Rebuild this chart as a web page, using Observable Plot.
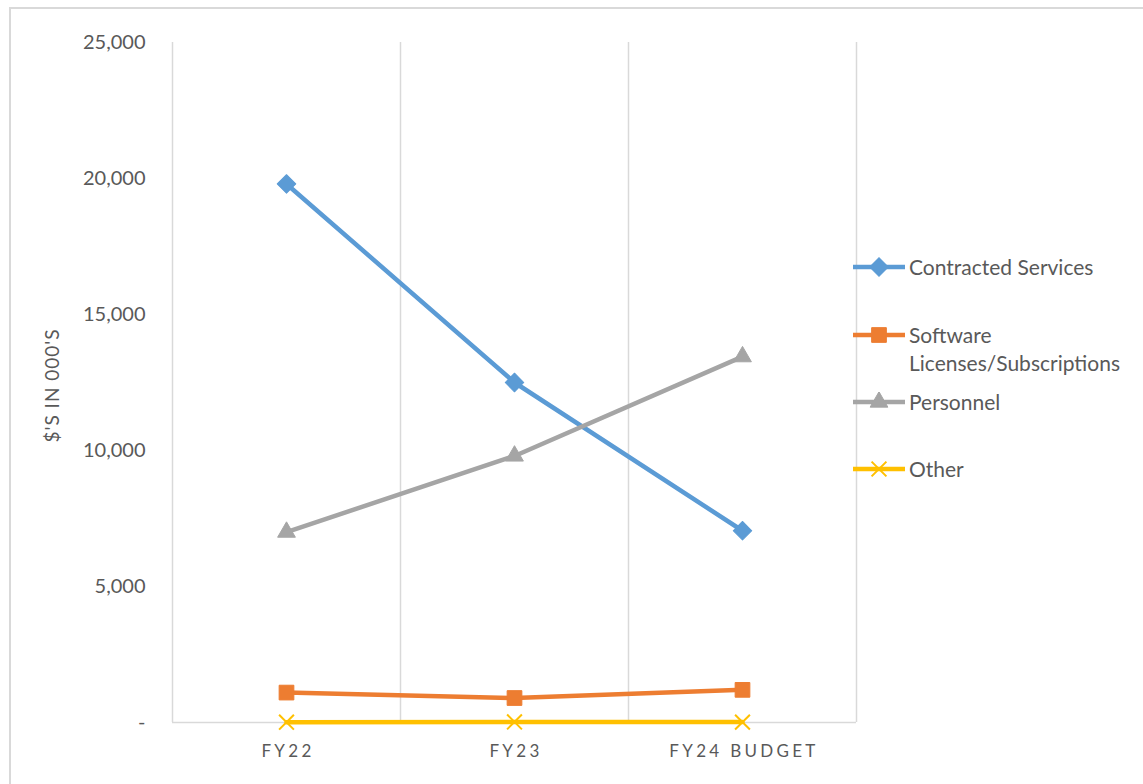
<!DOCTYPE html>
<html>
<head>
<meta charset="utf-8">
<script src="https://cdn.jsdelivr.net/npm/d3@7"></script>
<script src="https://cdn.jsdelivr.net/npm/@observablehq/plot@0.6"></script>
<style>
  body { margin: 0; background: #fff; }
  #frame { position: relative; width: 1143px; height: 784px; overflow: hidden; font-family: Lato, "Open Sans", sans-serif; }
  #border { position: absolute; left: 9px; top: 7px; width: 1300px; height: 1000px; border: 2px solid #d9d9d9; box-sizing: border-box; }
  #chart { position: absolute; left: 0; top: 0; }
  #legend { position: absolute; left: 853px; top: 0; width: 290px; height: 784px; }
  .entry { position: absolute; left: 0; display: flex; align-items: flex-start; color: #595959; font-size: 21px; line-height: 28px; }
  .entry svg { flex: none; margin-top: 4px; }
</style>
</head>
<body>
<div id="frame">
  <div id="border"></div>
  <div id="chart"></div>
  <div id="legend"></div>
</div>
<script>
// Spending by category, in thousands of dollars
const categories = ["FY22", "FY23", "FY24 BUDGET"];
const seriesNames = ["Contracted Services", "Software Licenses/Subscriptions", "Personnel", "Other"];
const contracted = [19800, 12500, 7050];
const software = [1100, 900, 1200];
const personnel = [7000, 9800, 13450];
const other = [10, 20, 15];
const yTicks = [0, 5000, 10000, 15000, 20000, 25000];
const yTitle = "$'S IN 000'S";

const seriesValues = [contracted, software, personnel, other];
const colors = ["#5b9bd5", "#ed7d31", "#a5a5a5", "#ffc000"];
const symbols = ["square", "square", "triangle", "times"];
const rotations = [45, 0, 0, 0];
// marker radii (Plot sizes symbols by equivalent circle radius)
const radii = [7.4, 8.3, 6.6, 6.8];

// long-format table: one row per series per fiscal year
const rows = seriesNames.flatMap((name, k) =>
  seriesValues[k].map((v, i) => ({ series: name, k, cat: categories[i], pos: i + 0.5, value: v }))
);

const fmt = d => d === 0 ? "-" : d3.format(",")(d);
const textColor = "#595959";

const marks = [
  // vertical gridlines at category boundaries and the baseline
  Plot.ruleX([0, 1, 2, 3], { stroke: "#d9d9d9", strokeWidth: 1.5 }),
  Plot.ruleY([0], { stroke: "#d9d9d9", strokeWidth: 1.5 }),
  // y tick labels
  Plot.text(yTicks, { x: 0, y: d => d, text: fmt, dx: -27, textAnchor: "end", fill: textColor, fontSize: 20 }),
  // x category labels
  Plot.text(categories, { x: (d, i) => i + 0.5, y: 0, text: d => d, dx: 1.5, dy: 29, fill: textColor, fontSize: 17 }),
  // y axis title
  Plot.text([yTitle], { frameAnchor: "left", textAnchor: "middle", dx: -120, dy: 3, rotate: -90, text: d => d, fill: textColor, fontSize: 19 })
];

seriesNames.forEach((name, k) => {
  const data = rows.filter(r => r.k === k);
  marks.push(Plot.line(data, { x: "pos", y: "value", stroke: colors[k], strokeWidth: 4.5, strokeLinejoin: "round" }));
  if (symbols[k] === "times") {
    marks.push(Plot.dot(data, { x: "pos", y: "value", symbol: "times", r: radii[k], stroke: colors[k], strokeWidth: 2, fill: "none" }));
  } else {
    marks.push(Plot.dot(data, { x: "pos", y: "value", symbol: symbols[k], r: radii[k], rotate: rotations[k], fill: colors[k], stroke: colors[k], strokeWidth: 1, strokeLinejoin: "round" }));
  }
});

const chart = Plot.plot({
  width: 1143,
  height: 784,
  marginLeft: 172,
  marginRight: 287,
  marginTop: 42,
  marginBottom: 62,
  x: { domain: [0, 3], axis: null },
  y: { domain: [0, 25000], axis: null },
  style: { fontFamily: "Lato, 'Open Sans', sans-serif", background: "transparent", overflow: "visible" },
  marks
});

// spaced-out category labels and title
d3.select(chart).selectAll("text")
  .filter(function () { return categories.includes(this.textContent); })
  .style("letter-spacing", "3.3px");
d3.select(chart).selectAll("text")
  .filter(function () { return this.textContent === yTitle; })
  .style("letter-spacing", "1px");
document.getElementById("chart").appendChild(chart);

// legend at the right
const legendTops = [253, 321, 388, 455];
const legend = d3.select("#legend");
seriesNames.forEach((name, k) => {
  const entry = legend.append("div").attr("class", "entry").style("top", legendTops[k] + "px");
  const svg = entry.append("svg").attr("width", 56).attr("height", 20);
  svg.append("line").attr("x1", 0).attr("x2", 52).attr("y1", 10).attr("y2", 10)
    .attr("stroke", colors[k]).attr("stroke-width", 4.5);
  const isTimes = symbols[k] === "times";
  const rr = radii[k];
  const type = { square: d3.symbolSquare, triangle: d3.symbolTriangle, times: d3.symbolTimes }[symbols[k]];
  svg.append("path")
    .attr("d", d3.symbol(type, rr * rr * Math.PI)())
    .attr("transform", `translate(26,10) rotate(${rotations[k]})`)
    .attr("fill", isTimes ? "none" : colors[k])
    .attr("stroke", colors[k])
    .attr("stroke-width", isTimes ? 2 : 1);
  const label = name === "Software Licenses/Subscriptions" ? "Software<br>Licenses/Subscriptions" : name;
  entry.append("div").html(label);
});
</script>
</body>
</html>
